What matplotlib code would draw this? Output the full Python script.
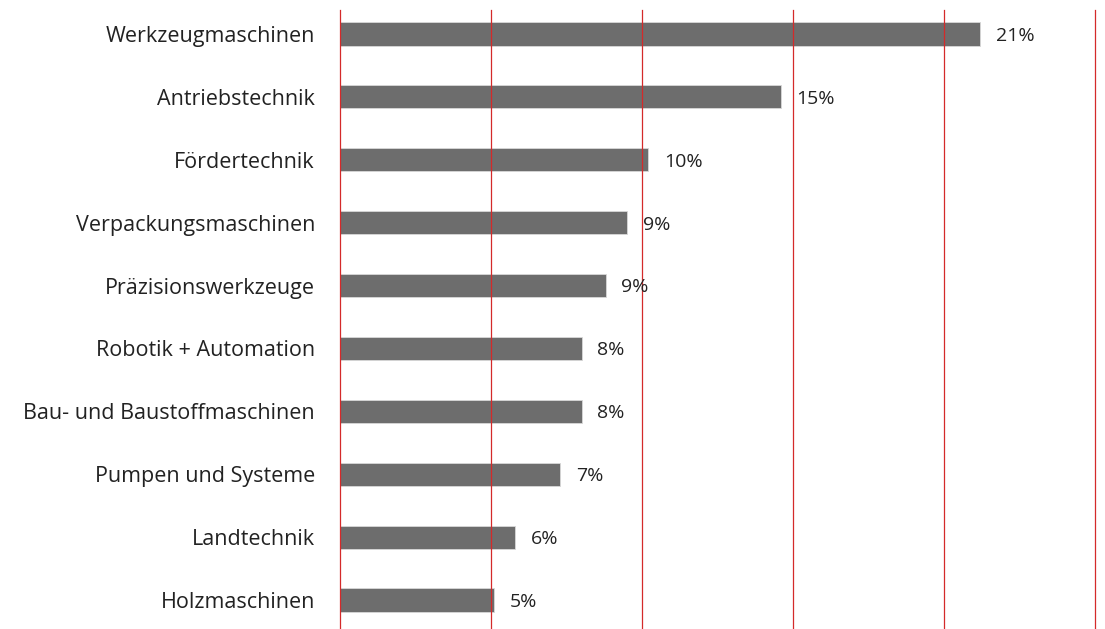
import matplotlib.pyplot as plt
import numpy as np

categories = [
    "Werkzeugmaschinen",
    "Antriebstechnik",
    "Fördertechnik",
    "Verpackungsmaschinen",
    "Präzisionswerkzeuge",
    "Robotik + Automation",
    "Bau- und Baustoffmaschinen",
    "Pumpen und Systeme",
    "Landtechnik",
    "Holzmaschinen",
]
values = [21.2, 14.6, 10.2, 9.5, 8.8, 8.0, 8.0, 7.3, 5.8, 5.1]
labels = ["21%", "15%", "10%", "9%", "9%", "8%", "8%", "7%", "6%", "5%"]
grid_ticks = [0, 5, 10, 15, 20, 25]

plt.rcParams["font.family"] = ["Open Sans", "DejaVu Sans"]

fig = plt.figure(figsize=(11.05, 6.29), dpi=100)
ax = fig.add_axes([340 / 1105, 0, 755 / 1105, 619 / 629])

y = np.arange(len(categories))
ax.barh(y, values, height=0.37, color="#6d6d6d", edgecolor="#d8d8d8",
        linewidth=0.6, zorder=2)

for gx in grid_ticks:
    ax.axvline(gx, color="#d42a2a", linewidth=0.9, zorder=3, clip_on=False)

for yi, v, lab in zip(y, values, labels):
    ax.text(v + 0.52, yi + 0.03, lab, va="center", ha="left", fontsize=14,
            color="#222222")

ax.set_xlim(0, 25)
ax.set_ylim(9.46, -0.38)
ax.set_yticks(y)
ax.set_yticklabels(categories, fontsize=15.5, color="#222222")
ax.tick_params(axis="y", length=0, pad=18)
ax.set_xticks([])
for s in ax.spines.values():
    s.set_visible(False)

fig.savefig("out.png", dpi=100)
